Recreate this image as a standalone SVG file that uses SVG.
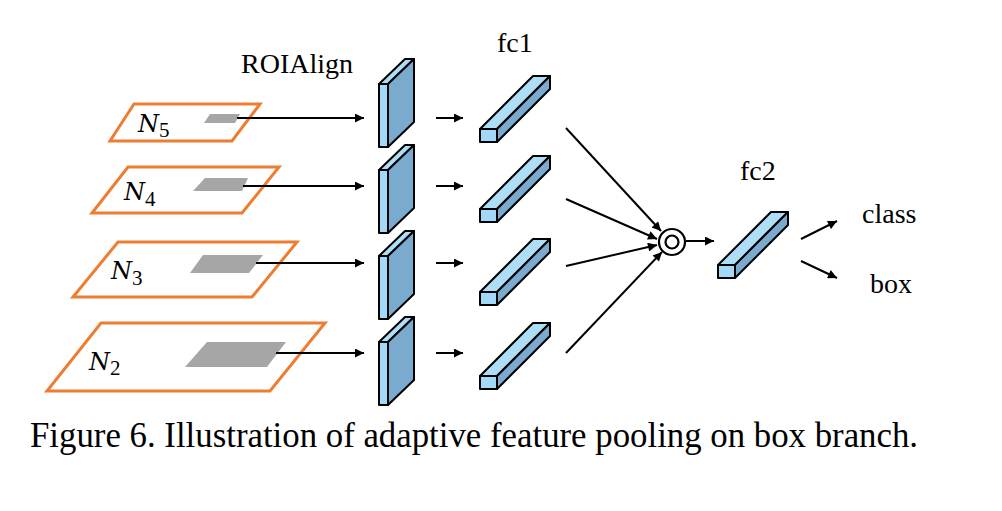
<svg xmlns="http://www.w3.org/2000/svg" width="1002" height="511" viewBox="0 0 1002 511">
<style>
.plane{fill:#fff;stroke:#ED7D31;stroke-width:3;stroke-linejoin:miter}
.roi{fill:#A6A6A6}
.front{fill:#A2D8F8;stroke:#000;stroke-width:2;stroke-linejoin:round}
.top{fill:#AEDDF6;stroke:#000;stroke-width:2;stroke-linejoin:round}
.side{fill:#7BAACF;stroke:#000;stroke-width:2;stroke-linejoin:round}
.ar{stroke:#000;stroke-width:2;fill:none;marker-end:url(#ah)}
.lbl{font-family:"Liberation Serif","Times New Roman",serif;font-size:28px;fill:#000}
.nl{font-family:"DejaVu Serif","Liberation Serif",serif;font-size:24px;font-style:italic;fill:#000}
.sub{font-family:"Liberation Serif","Times New Roman",serif;font-size:21px;font-style:normal;fill:#000}
.cap{font-family:"Liberation Serif","Times New Roman",serif;font-size:34.8px;fill:#000}
</style>
<defs>
<marker id="ah" viewBox="0 0 10 10" refX="10" refY="5" markerWidth="5.5" markerHeight="4.5" markerUnits="strokeWidth" orient="auto">
<path d="M0,0 L10,5 L0,10 z" fill="#000"/>
</marker>
<g id="slab">
<polygon class="top" points="0,0 9,0 35,-25 26,-25"/>
<polygon class="side" points="9,0 35,-25 35,38 9,63"/>
<rect class="front" x="0" y="0" width="9" height="63"/>
</g>
<g id="bar">
<polygon class="top" points="0,0 17,0 70,-53 53,-53"/>
<polygon class="side" points="17,0 70,-53 70,-40 17,13"/>
<rect class="front" x="0" y="0" width="17" height="13"/>
</g>
</defs>

<g id="N5">
<polygon class="plane" points="134,104 260,104 232,141 110,141"/>
<polygon class="roi" points="210,114 240,114 235,123 204,123"/>
<text class="nl" x="138" y="132">N<tspan class="sub" dx="0" dy="5">5</tspan></text>
</g>
<g id="N4">
<polygon class="plane" points="128,167 279,167 242,213 92,213"/>
<polygon class="roi" points="205,178 248,178 242,191 193,191"/>
<text class="nl" x="124" y="200">N<tspan class="sub" dx="0" dy="6">4</tspan></text>
</g>
<g id="N3">
<polygon class="plane" points="118,242 297,242 252,297 73,297"/>
<polygon class="roi" points="203,255 263,255 249,273 190,273"/>
<text class="nl" x="111" y="279">N<tspan class="sub" dx="0" dy="6">3</tspan></text>
</g>
<g id="N2">
<polygon class="plane" points="101,323 325,323 270,391 47,391"/>
<polygon class="roi" points="207,342 286,342 267,367 185,367"/>
<text class="nl" x="89" y="370">N<tspan class="sub" dx="0" dy="5">2</tspan></text>
</g>

<g id="roialign">
<text class="lbl" x="241" y="73">ROIAlign</text>
<use href="#slab" x="379" y="84"/>
<use href="#slab" x="379" y="170"/>
<use href="#slab" x="379" y="256"/>
<use href="#slab" x="379" y="342"/>
</g>

<g id="fc1">
<text class="lbl" x="497" y="52">fc1</text>
<use href="#bar" x="480" y="129"/>
<use href="#bar" x="480" y="209"/>
<use href="#bar" x="480" y="292"/>
<use href="#bar" x="480" y="376"/>
</g>

<g id="fuse">
<circle cx="672" cy="242" r="13" fill="#fff" stroke="#000" stroke-width="2.2"/>
<circle cx="672" cy="242" r="6.5" fill="none" stroke="#000" stroke-width="2.2"/>
</g>

<g id="fc2">
<text class="lbl" x="740" y="180">fc2</text>
<use href="#bar" x="718" y="265"/>
</g>

<g id="class">
<text class="lbl" x="862" y="223">class</text>
</g>
<g id="box">
<text class="lbl" x="870" y="293">box</text>
</g>

<g id="connectors">
<line class="ar" x1="237" y1="118" x2="364" y2="118"/>
<line class="ar" x1="243" y1="186" x2="364" y2="186"/>
<line class="ar" x1="256" y1="263" x2="364" y2="263"/>
<line class="ar" x1="276" y1="353" x2="364" y2="353"/>
<line class="ar" x1="436" y1="118" x2="463" y2="118"/>
<line class="ar" x1="436" y1="186" x2="463" y2="186"/>
<line class="ar" x1="436" y1="263" x2="463" y2="263"/>
<line class="ar" x1="436" y1="353" x2="463" y2="353"/>
<line class="ar" x1="566" y1="128" x2="661" y2="231"/>
<line class="ar" x1="566" y1="199" x2="657" y2="239"/>
<line class="ar" x1="566" y1="266" x2="657" y2="245"/>
<line class="ar" x1="566" y1="353" x2="662" y2="252"/>
<line class="ar" x1="686" y1="241" x2="714" y2="241"/>
<line class="ar" x1="801" y1="239" x2="837" y2="221"/>
<line class="ar" x1="801" y1="261" x2="837" y2="278"/>
</g>

<text class="cap" x="30" y="447">Figure 6. Illustration of adaptive feature pooling on box branch.</text>
</svg>
